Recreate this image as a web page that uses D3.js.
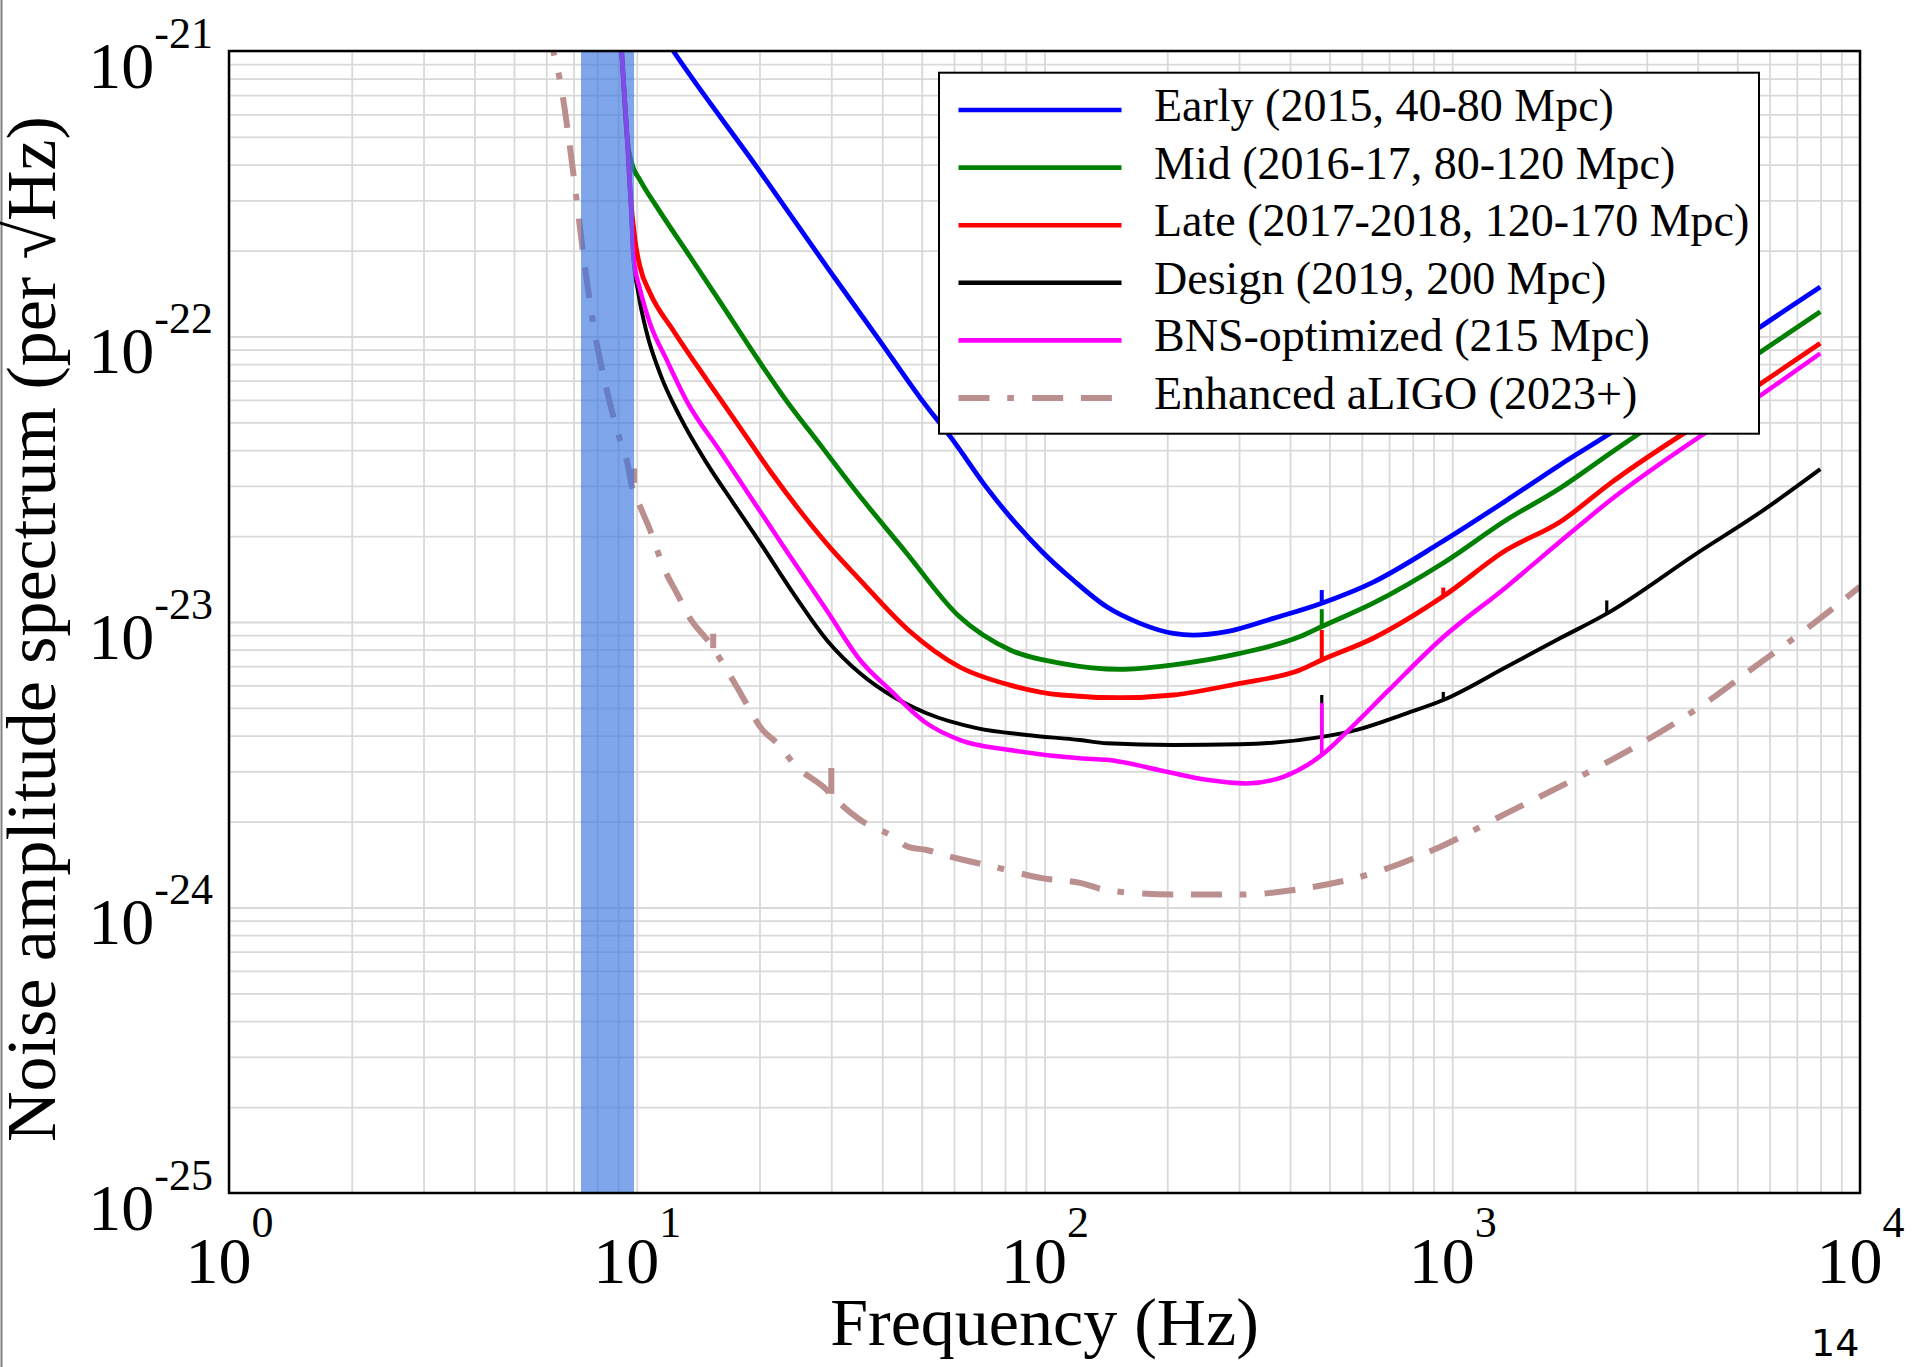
<!DOCTYPE html>
<html>
<head>
<meta charset="utf-8">
<script src="https://cdn.jsdelivr.net/npm/d3@7/dist/d3.min.js"></script>
<style>
    body { margin: 0; background: #fff; }
    svg { display: block; }
</style>
</head>
<body>
<div id="chart"></div>
<script>
// ---- data (frequency in Hz, amplitude in 1/sqrt(Hz)) ----
const freqTicks = [1, 10, 100, 1000, 10000];
const freqExponents = ["0", "1", "2", "3", "4"];
const ampTicks = [1e-21, 1e-22, 1e-23, 1e-24, 1e-25];
const ampExponents = ["-21", "-22", "-23", "-24", "-25"];

const labels = [
    "Early (2015, 40-80 Mpc)",
    "Mid (2016-17, 80-120 Mpc)",
    "Late (2017-2018, 120-170 Mpc)",
    "Design (2019, 200 Mpc)",
    "BNS-optimized (215 Mpc)",
    "Enhanced aLIGO (2023+)"
];

const lowFreqBand = [7.3, 9.85];

const early = [
    [11.0, 1.27e-21], [12.29, 1.0e-21], [19.86, 3.86e-22], [29.79, 1.69e-22], [39.5, 9.64e-23],
    [49.5, 6.11e-23], [59.8, 4.31e-23], [72.2, 2.95e-23], [98.4, 1.77e-23], [117.7, 1.40e-23],
    [142.1, 1.13e-23], [171.5, 9.89e-24], [207, 9.12e-24], [231.7, 8.99e-24], [279.8, 9.25e-24],
    [364, 1.03e-23], [478.6, 1.164e-23], [640.5, 1.38e-23], [933, 1.89e-23], [1360, 2.67e-23],
    [1837, 3.55e-23], [2441, 4.58e-23], [5642, 1.07e-22], [7990, 1.49e-22]
];
const mid = [
    [9.02, 1.41e-21], [9.18, 1.0e-21], [9.48, 4.88e-22], [9.72, 4.05e-22], [10.19, 3.53e-22],
    [11.19, 2.85e-22], [13.49, 1.91e-22], [16.31, 1.27e-22], [19.86, 8.28e-23], [23.32, 5.94e-23],
    [28.14, 4.19e-23], [33.97, 2.95e-23], [45.5, 1.77e-23], [61.8, 1.045e-23], [82.4, 7.98e-24],
    [109.9, 7.16e-24], [153.1, 6.82e-24], [207, 7.08e-24], [301.3, 7.76e-24], [423.3, 8.89e-24],
    [478.6, 9.64e-24], [639.7, 1.164e-23], [950.6, 1.61e-23], [1360, 2.28e-23], [1837, 2.94e-23],
    [2441, 3.90e-23], [5642, 8.73e-23], [7990, 1.22e-22]
];
const late = [
    [9.02, 1.41e-21], [9.18, 1.0e-21], [9.48, 4.88e-22], [9.63, 3.26e-22], [9.90, 2.18e-22],
    [10.19, 1.75e-22], [10.78, 1.42e-22], [12.29, 1.05e-22], [14.85, 7.05e-23], [17.92, 4.80e-23],
    [21.23, 3.38e-23], [25.14, 2.45e-23], [30.34, 1.77e-23], [34.71, 1.44e-23], [46.32, 9.38e-24],
    [61.8, 6.97e-24], [82.4, 6.01e-24], [109.9, 5.55e-24], [153.1, 5.43e-24], [207, 5.55e-24],
    [301.3, 6.10e-24], [423.3, 6.79e-24], [478.6, 7.36e-24], [639.7, 8.77e-24], [950.6, 1.23e-23],
    [1360, 1.79e-23], [1837, 2.24e-23], [2441, 3.06e-23], [5642, 6.76e-23], [7990, 9.46e-23]
];
const design = [
    [9.02, 1.41e-21], [9.18, 1.0e-21], [9.48, 4.88e-22], [9.59, 3.73e-22], [9.72, 2.49e-22],
    [9.81, 1.91e-22], [10.09, 1.42e-22], [10.58, 1.03e-22], [11.40, 7.43e-23], [12.76, 5.24e-23],
    [14.85, 3.60e-23], [17.25, 2.61e-23], [19.86, 1.94e-23], [24.21, 1.26e-23], [29.23, 8.65e-24],
    [35.28, 6.61e-24], [42.58, 5.47e-24], [51.4, 4.79e-24], [68.2, 4.25e-24], [90.4, 4.02e-24],
    [122.2, 3.86e-24], [142.1, 3.76e-24], [207, 3.71e-24], [301.3, 3.73e-24], [478.6, 3.96e-24],
    [582.8, 4.19e-24], [772.7, 4.79e-24], [950.6, 5.33e-24], [1360, 6.97e-24], [1837, 8.77e-24],
    [2393, 1.07e-23], [3981, 1.74e-23], [5642, 2.40e-23], [7990, 3.43e-23]
];
const bnsOpt = [
    [9.02, 1.41e-21], [9.18, 1.0e-21], [9.48, 4.88e-22], [9.59, 3.73e-22], [9.72, 2.49e-22],
    [9.81, 1.91e-22], [10.19, 1.46e-22], [10.78, 1.11e-22], [11.84, 8.28e-23], [13.26, 5.94e-23],
    [16.0, 3.97e-23], [19.32, 2.65e-23], [23.32, 1.77e-23], [29.23, 1.10e-23], [35.28, 7.36e-24],
    [41.78, 5.78e-24], [51.4, 4.42e-24], [62.1, 3.86e-24], [82.3, 3.56e-24], [122.2, 3.33e-24],
    [142.1, 3.29e-24], [199.4, 2.99e-24], [249.9, 2.80e-24], [313.2, 2.72e-24], [385.3, 2.87e-24],
    [478.6, 3.42e-24], [557.9, 4.19e-24], [699.4, 5.78e-24], [933.3, 8.65e-24], [1360, 1.33e-23],
    [1837, 1.91e-23], [2393, 2.61e-23], [5642, 6.15e-23], [7990, 8.73e-23]
];
const enhanced = [
    [6.03, 1.23e-21], [6.24, 1.0e-21], [6.48, 7.91e-22], [6.99, 3.73e-22], [7.39, 1.95e-22],
    [7.82, 1.11e-22], [8.44, 6.50e-23], [9.10, 4.34e-23], [9.45, 3.69e-23], [9.72, 3.0e-23],
    [10.19, 2.54e-23], [10.78, 2.10e-23], [11.62, 1.56e-23], [12.66, 1.23e-23], [13.34, 1.06e-23],
    [15.12, 8.41e-24], [17.59, 5.93e-24], [18.96, 4.92e-24], [20.06, 4.30e-24], [22.53, 3.66e-24],
    [24.21, 3.20e-24], [29.23, 2.58e-24], [30.34, 2.44e-24], [35.28, 2.03e-24], [42.58, 1.77e-24],
    [46.32, 1.63e-24], [51.4, 1.59e-24], [58.3, 1.51e-24], [74.9, 1.39e-24], [99.3, 1.265e-24],
    [122.2, 1.22e-24], [142.1, 1.15e-24], [207, 1.11e-24], [301.3, 1.11e-24], [439.5, 1.17e-24],
    [639.7, 1.32e-24], [933.3, 1.63e-24], [1360, 2.14e-24], [1837, 2.65e-24], [2458, 3.29e-24],
    [4121, 5.13e-24], [5483, 6.92e-24], [7270, 9.29e-24], [10000, 1.33e-23]
];

// narrow lines (violin modes etc.): [frequency, base, top]
const earlySpikes = [[478.6, 1.164e-23, 1.294e-23]];
const midSpikes = [[478.6, 9.64e-24, 1.109e-23]];
const lateSpikes = [[478.6, 7.36e-24, 9.38e-24], [950.6, 1.23e-23, 1.32e-23]];
const designSpikes = [[478.6, 3.96e-24, 5.55e-24], [950.6, 5.33e-24, 5.69e-24], [2393, 1.07e-23, 1.19e-23]];
const bnsSpikes = [[478.6, 3.42e-24, 5.20e-24]];
const enhancedSpikes = [[9.85, 3.07e-23, 3.45e-23], [15.4, 8.1e-24, 9.1e-24], [30.0, 2.50e-24, 3.08e-24]];

// ---- layout ----
const width = 1917, height = 1367;
const margin = { top: 51, right: 57, bottom: 174, left: 229 };
const plotW = width - margin.left - margin.right;
const plotH = height - margin.top - margin.bottom;
const serif = "'Liberation Serif', 'Times New Roman', Times, serif";

const series = [
    { label: labels[0], data: early, spikes: earlySpikes, color: "#0000ff", dash: null, lw: 4.8 },
    { label: labels[1], data: mid, spikes: midSpikes, color: "#008000", dash: null, lw: 4.8 },
    { label: labels[2], data: late, spikes: lateSpikes, color: "#ff0000", dash: null, lw: 4.8 },
    { label: labels[3], data: design, spikes: designSpikes, color: "#000000", dash: null, lw: 4.0 },
    { label: labels[4], data: bnsOpt, spikes: bnsSpikes, color: "#ff00ff", dash: null, lw: 4.5 },
    { label: labels[5], data: enhanced, spikes: enhancedSpikes, color: "#bc8f8f", dash: "31,17.7,6.7,18.3,31,17.7", lw: 6 }
];

const svg = d3.select("#chart").append("svg")
    .attr("width", width)
    .attr("height", height);

svg.append("rect").attr("width", width).attr("height", height).attr("fill", "#fff");

// thin frame line on the left edge of the slide
svg.append("line")
    .attr("x1", 1.5).attr("x2", 1.5)
    .attr("y1", 0).attr("y2", height)
    .attr("stroke", "#808080").attr("stroke-width", 2);

const g = svg.append("g").attr("transform", `translate(${margin.left},${margin.top})`);

const x = d3.scaleLog().domain([1, 1e4]).range([0, plotW]);
const y = d3.scaleLog().domain([1e-25, 1e-21]).range([plotH, 0]);

svg.append("defs").append("clipPath").attr("id", "plot-clip")
    .append("rect").attr("width", plotW).attr("height", plotH);

// --- grid (major + minor, same style) ---
const gridX = g.append("g")
    .attr("transform", `translate(0,${plotH})`)
    .call(d3.axisBottom(x).tickValues(x.ticks()).tickSize(-plotH).tickFormat(""));
const gridY = g.append("g")
    .call(d3.axisLeft(y).tickValues(y.ticks()).tickSize(-plotW).tickFormat(""));
[gridX, gridY].forEach(gr => {
    gr.select(".domain").remove();
    gr.selectAll("line").attr("stroke", "#d9d9d9").attr("stroke-width", 1.8);
});

// --- curves ---
const line = d3.line()
    .x(d => x(d[0]))
    .y(d => y(d[1]))
    .curve(d3.curveMonotoneX);

const curves = g.append("g").attr("clip-path", "url(#plot-clip)");

series.forEach(s => {
    curves.append("path")
        .datum(s.data)
        .attr("fill", "none")
        .attr("stroke", s.color)
        .attr("stroke-width", s.lw)
        .attr("stroke-dasharray", s.dash)
        .attr("stroke-linejoin", "round")
        .attr("d", line);

    curves.selectAll(null)
        .data(s.spikes)
        .join("line")
        .attr("x1", d => x(d[0])).attr("x2", d => x(d[0]))
        .attr("y1", d => y(d[1])).attr("y2", d => y(d[2]))
        .attr("stroke", s.color)
        .attr("stroke-width", s.dash ? s.lw : s.lw - 0.8);
});

// --- shaded low-frequency band (drawn over lines, semi transparent) ---
g.append("rect")
    .attr("x", x(lowFreqBand[0]))
    .attr("width", x(lowFreqBand[1]) - x(lowFreqBand[0]))
    .attr("y", 0)
    .attr("height", plotH)
    .attr("fill", "#3b74e0")
    .attr("opacity", 0.65);

// --- frame ---
g.append("rect")
    .attr("width", plotW).attr("height", plotH)
    .attr("fill", "none").attr("stroke", "#000").attr("stroke-width", 2.5);

// --- tick labels ---
const xAxis = g.append("g")
    .attr("transform", `translate(0,${plotH})`)
    .call(d3.axisBottom(x).tickValues(freqTicks).tickSize(0).tickFormat(""));
xAxis.select(".domain").remove();
xAxis.selectAll(".tick").each(function(d, i) {
    const t = d3.select(this).append("text")
        .attr("y", 90)
        .attr("text-anchor", "middle")
        .attr("fill", "#000")
        .style("font-family", serif)
        .style("font-size", "66px");
    t.append("tspan").text("10");
    t.append("tspan").attr("dy", -46).style("font-size", "44px").text(freqExponents[i]);
});

const yAxis = g.append("g")
    .call(d3.axisLeft(y).tickValues(ampTicks).tickSize(0).tickFormat(""));
yAxis.select(".domain").remove();
yAxis.selectAll(".tick").each(function(d, i) {
    const t = d3.select(this).append("text")
        .attr("x", -16)
        .attr("y", 36)
        .attr("text-anchor", "end")
        .attr("fill", "#000")
        .style("font-family", serif)
        .style("font-size", "66px");
    t.append("tspan").text("10");
    t.append("tspan").attr("dy", -40).style("font-size", "44px").text(ampExponents[i]);
});

// --- axis titles ---
svg.append("text")
    .attr("x", margin.left + plotW / 2)
    .attr("y", 1345)
    .attr("text-anchor", "middle")
    .style("font-family", serif)
    .style("font-size", "68px")
    .text("Frequency (Hz)");

svg.append("text")
    .attr("transform", `translate(55,${margin.top + plotH / 2 + 7}) rotate(-90)`)
    .attr("text-anchor", "middle")
    .style("font-family", serif)
    .style("font-size", "70px")
    .text("Noise amplitude spectrum (per \u221AHz)");

// --- legend ---
const legend = g.append("g").attr("transform", "translate(710,21.7)");
legend.append("rect")
    .attr("width", 820).attr("height", 361)
    .attr("fill", "#fff").attr("stroke", "#000").attr("stroke-width", 2);

series.forEach((s, i) => {
    const row = legend.append("g").attr("transform", `translate(0,${37.3 + i * 57.6})`);
    row.append("line")
        .attr("x1", 19.5).attr("x2", 182.5)
        .attr("stroke", s.color)
        .attr("stroke-width", s.dash ? s.lw : 4.6)
        .attr("stroke-dasharray", s.dash);
    row.append("text")
        .attr("x", 215)
        .attr("y", 11)
        .style("font-family", serif)
        .style("font-size", "46px")
        .text(s.label);
});

// --- page number ---
svg.append("text")
    .attr("x", 1811)
    .attr("y", 1356)
    .style("font-family", "'DejaVu Sans', sans-serif")
    .style("font-size", "38px")
    .text("14");
</script>
</body>
</html>
